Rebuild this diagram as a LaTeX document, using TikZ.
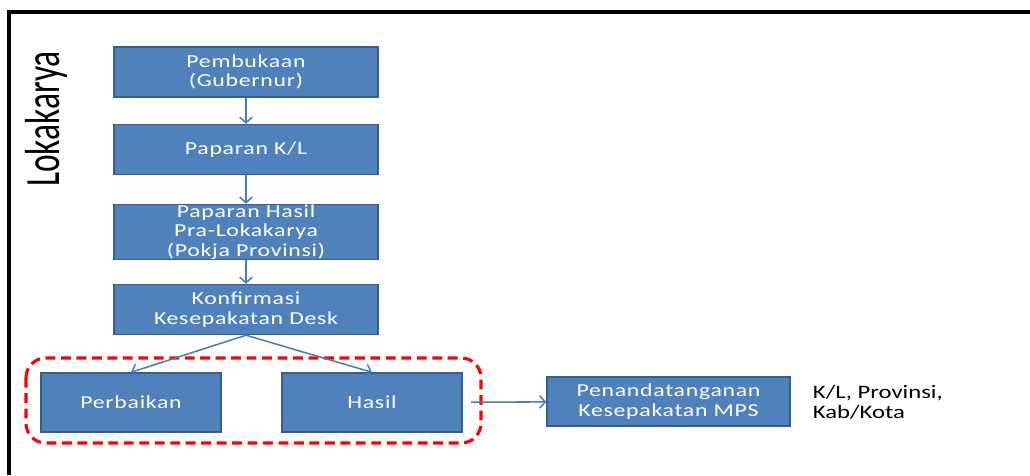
\documentclass[tikz,border=0pt]{standalone}
\usepackage{fontspec}
\setmainfont{Carlito}
\newfontfamily\boxfont[FakeStretch=1.3,LetterSpace=4]{Carlito}
\newfontfamily\notefont[FakeStretch=1.3]{Carlito}
\newfontfamily\titlefont[FakeStretch=0.68]{Carlito}
\usetikzlibrary{arrows.meta}
\definecolor{boxblue}{RGB}{79,129,189}
\definecolor{boxedge}{RGB}{56,93,138}
\definecolor{arrowblue}{RGB}{74,126,187}
\tikzset{
  stepbox/.style={draw=boxedge, fill=boxblue, line width=1pt, text=white,
    font=\boxfont\fontsize{13}{14}\selectfont, align=center,
    minimum width=6.6cm, minimum height=1.25cm, inner sep=0pt},
  smallbox/.style={stepbox, minimum width=4.5cm, minimum height=1.475cm},
  flow/.style={draw=arrowblue, line width=1.1pt, -{Straight Barb[length=4pt, width=9pt]}}
}
\begin{document}
\begin{tikzpicture}[x=0.025cm, y=-0.025cm]
\useasboundingbox (0,0) rectangle (1030,475);

% frame
\draw[line width=2.2pt] (9,475) -- (9,12) -- (1030,12);

\node[rotate=90, font=\titlefont\fontsize{35}{37}\selectfont] (title) at (46,119) {Lokakarya};

\node[stepbox] (buka) at (246,72) {Pembukaan\\(Gubernur)};
\node[stepbox] (kl) at (246,149.5) {Paparan K/L};
\node[stepbox] (pra) at (246,232) {Paparan Hasil\\Pra-Lokakarya\\(Pokja Provinsi)};
\node[stepbox] (desk) at (246,309.5) {Konfirmasi\\Kesepakatan Desk};
\node[smallbox] (perbaikan) at (131,402.5) {Perbaikan};
\node[smallbox] (hasil) at (372,402.5) {Hasil};
\node[stepbox, minimum width=6.075cm, minimum height=1.225cm] (mps) at (668.5,401.5) {Penandatanganan\\Kesepakatan MPS};
\node[anchor=west, align=left, font=\notefont\fontsize{13.5}{14.5}\selectfont] (pihak) at (808,402) {K/L, Provinsi,\\Kab/Kota};

% group
\draw[red, line width=2.2pt, dash pattern=on 7pt off 4pt, rounded corners=14pt] (26,358) rectangle (481,443);

\draw[flow] (buka) -- (kl);
\draw[flow] (kl) -- (pra);
\draw[flow] (pra) -- (desk);
\draw[flow] (desk.south) -- (perbaikan.north);
\draw[flow] (desk.south) -- (hasil.north);
\draw[flow, shorten <=6pt] (hasil) -- (mps);
\end{tikzpicture}
\end{document}
